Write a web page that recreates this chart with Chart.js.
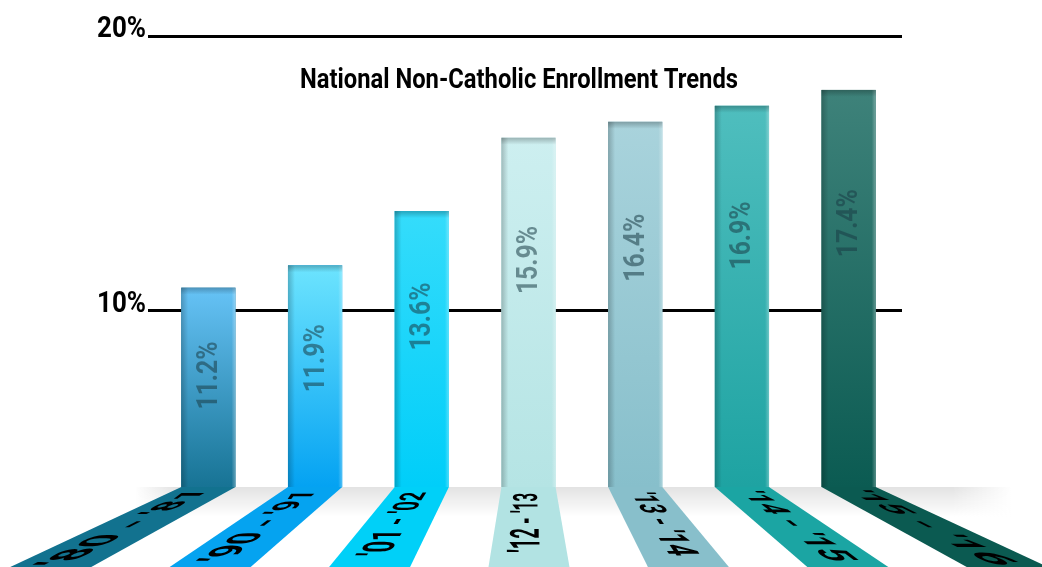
<!DOCTYPE html>
<html>
<head>
<meta charset="utf-8">
<script src="https://cdn.jsdelivr.net/npm/chart.js@4.4.0/dist/chart.umd.min.js"></script>
<style>
html,body{margin:0;padding:0;background:#fff;}
#wrap{width:1042px;height:567px;position:relative;}
</style>
</head>
<body>
<div id="wrap"><canvas id="barChart"></canvas></div>
<script>
// data
var years = ["'80 - '81", "'90 - '91", "'01 - '02", "'12 - '13", "'13 - '14", "'14 - '15", "'15 - '16"];
var shares = [11.2, 11.9, 13.6, 15.9, 16.4, 16.9, 17.4];
var gridTicks = [10, 20];
var chartTitle = 'National Non-Catholic Enrollment Trends';

// styles
var barTop    = ['#66c3f7', '#6de4fe', '#35dcfb', '#cdeff0', '#a9d3dc', '#4fbebe', '#3e827a'];
var barBottom = ['#177394', '#04a2f2', '#00cef9', '#b5e4e4', '#87bfcb', '#1ea3a2', '#0b5b52'];
var bandColors = ['#12728f', '#05a3f0', '#00d0f8', '#b2e3e3', '#88bfcb', '#1ba5a3', '#0b5a51'];
var fontFam = 'Roboto, "DejaVu Sans", sans-serif';
var barMin = 4.95, barMax = 19.09;

// draw text squeezed horizontally to a given width (condensed look)
function fitText(ctx, text, x, y, width, size, align, baseline) {
    ctx.save();
    ctx.font = 'bold ' + size + 'px ' + fontFam;
    var w = ctx.measureText(text).width;
    ctx.translate(x, y);
    ctx.scale(width / w, 1);
    ctx.textAlign = align;
    ctx.textBaseline = baseline;
    ctx.fillText(text, 0, 0);
    ctx.restore();
}

var barStyle = {
    id: 'barStyle',
    afterDatasetsDraw: function (chart) {
        var ctx = chart.ctx;
        var meta = chart.getDatasetMeta(0);
        var bottomPx = chart.chartArea.bottom;
        ctx.save();
        meta.data.forEach(function (bar, i) {
            var base = Math.min(bar.base, bottomPx);
            var w = bar.width, left = bar.x - w / 2, top = bar.y, h = base - top;
            var g = ctx.createLinearGradient(0, top, 0, base);
            g.addColorStop(0, barTop[i]);
            g.addColorStop(1, barBottom[i]);
            ctx.fillStyle = g;
            ctx.fillRect(left, top, w, h);
            // bevel
            var e = ctx.createLinearGradient(left, 0, left + 7, 0);
            e.addColorStop(0, 'rgba(0,0,0,0.22)');
            e.addColorStop(1, 'rgba(0,0,0,0)');
            ctx.fillStyle = e;
            ctx.fillRect(left, top, 7, h);
            var r = ctx.createLinearGradient(left + w - 4, 0, left + w, 0);
            r.addColorStop(0, 'rgba(255,255,255,0)');
            r.addColorStop(1, 'rgba(255,255,255,0.3)');
            ctx.fillStyle = r;
            ctx.fillRect(left + w - 4, top, 4, h);
            var t = ctx.createLinearGradient(0, top, 0, top + 7);
            t.addColorStop(0, 'rgba(0,0,0,0.25)');
            t.addColorStop(1, 'rgba(0,0,0,0)');
            ctx.fillStyle = t;
            ctx.fillRect(left, top, w, 7);
            // value label, rotated
            ctx.save();
            ctx.translate(bar.x, top + 42 + h * 0.23);
            ctx.rotate(-Math.PI / 2);
            ctx.fillStyle = 'rgba(25,60,70,0.55)';
            fitText(ctx, shares[i].toFixed(1) + '%', 0, 1, 68, 30, 'center', 'middle');
            ctx.restore();
        });
        ctx.restore();
    }
};

var floorPlugin = {
    id: 'floor',
    afterDraw: function (chart) {
        var ctx = chart.ctx, area = chart.chartArea;
        var base = area.bottom, bottom = chart.height;
        var meta = chart.getDatasetMeta(0);
        var vpx = (area.left + area.right) / 2 - 1, vpy = base - 162;
        var k = (bottom - vpy) / (base - vpy);
        ctx.save();
        // soft floor shadow, faded at both ends
        var x0 = area.left - 20, x1 = area.right + 110;
        var sg = ctx.createLinearGradient(0, base, 0, base + 30);
        sg.addColorStop(0, 'rgba(0,0,0,0.11)');
        sg.addColorStop(1, 'rgba(0,0,0,0)');
        ctx.fillStyle = sg;
        ctx.fillRect(x0, base, x1 - x0, 30);
        var fl = ctx.createLinearGradient(x0, 0, x0 + 40, 0);
        fl.addColorStop(0, '#fff');
        fl.addColorStop(1, 'rgba(255,255,255,0)');
        ctx.fillStyle = fl;
        ctx.fillRect(x0, base, 40, 30);
        var fr = ctx.createLinearGradient(x1 - 60, 0, x1, 0);
        fr.addColorStop(0, 'rgba(255,255,255,0)');
        fr.addColorStop(1, '#fff');
        ctx.fillStyle = fr;
        ctx.fillRect(x1 - 60, base, 60, 30);

        meta.data.forEach(function (bar, i) {
            var L = bar.x - bar.width / 2, R = bar.x + bar.width / 2;
            var Lb = vpx + (L - vpx) * k, Rb = vpx + (R - vpx) * k;
            ctx.save();
            ctx.beginPath();
            ctx.moveTo(L, base);
            ctx.lineTo(R, base);
            ctx.lineTo(Rb, bottom);
            ctx.lineTo(Lb, bottom);
            ctx.closePath();
            ctx.fillStyle = bandColors[i];
            ctx.fill();
            ctx.clip();

            // category text laid along the band, shrinking toward the bar
            var xb = vpx + (bar.x - vpx) * k;
            var dx = xb - bar.x, dy = bottom - base;
            var len = Math.sqrt(dx * dx + dy * dy);
            var ox = dx / len, oy = dy / len;
            var up = bar.x < vpx + 10;
            var chars = years[i].split('');
            if (up) chars.reverse();
            ctx.font = 'bold 46px ' + fontFam;
            ctx.textAlign = 'center';
            ctx.textBaseline = 'middle';
            ctx.fillStyle = '#000';
            var start = 6;
            var scaleAt = function (p) { return (base + oy * p - vpy) / (bottom - vpy); };
            var p = start, f;
            chars.forEach(function (c) {
                p += ctx.measureText(c).width * scaleAt(p + 8);
            });
            f = (0.95 * len - start) / (p - start);
            p = start;
            chars.forEach(function (c) {
                var cw = ctx.measureText(c).width;
                var s = scaleAt(p + 8);
                var adv = cw * s * f;
                var cx = bar.x + ox * (p + adv / 2), cy = base + oy * (p + adv / 2);
                if (up) {
                    ctx.setTransform(-ox * s * f, -oy * s * f, s, 0, cx, cy);
                } else {
                    ctx.setTransform(ox * s * f, oy * s * f, -s, 0, cx, cy);
                }
                ctx.fillText(c, 0, 0);
                p += adv;
            });
            ctx.setTransform(1, 0, 0, 1, 0, 0);
            ctx.restore();
        });

        // y tick labels, sitting on their grid lines
        var yScale = chart.scales.y;
        ctx.fillStyle = '#000';
        gridTicks.forEach(function (v) {
            fitText(ctx, v + '%', 146, yScale.getPixelForValue(v) + 1, 49, 30, 'right', 'alphabetic');
        });

        // title
        fitText(ctx, chartTitle, 519, 81, 438, 28, 'center', 'middle');
        ctx.restore();
    }
};

var chart = new Chart(document.getElementById('barChart').getContext('2d'), {
    type: 'bar',
    data: {
        labels: years,
        datasets: [{
            data: shares,
            yAxisID: 'yBar',
            base: barMin,
            backgroundColor: barBottom,
            borderWidth: 0,
            categoryPercentage: 0.8,
            barPercentage: 0.635
        }]
    },
    options: {
        responsive: true,
        maintainAspectRatio: false,
        animation: false,
        layout: { padding: { top: 36, right: 140, bottom: 80, left: 0 } },
        plugins: { legend: { display: false }, title: { display: false }, tooltip: { enabled: false } },
        scales: {
            x: { display: false },
            y: {
                position: 'left',
                min: 3.6,
                max: 20,
                afterBuildTicks: function (scale) {
                    scale.ticks = gridTicks.map(function (v) { return { value: v }; });
                },
                afterFit: function (scale) { scale.width = 155; },
                border: { display: false },
                grid: { color: '#000', lineWidth: 3, tickLength: 7 },
                ticks: { display: false }
            },
            yBar: { display: false, min: barMin, max: barMax }
        }
    },
    plugins: [barStyle, floorPlugin]
});
</script>
</body>
</html>
